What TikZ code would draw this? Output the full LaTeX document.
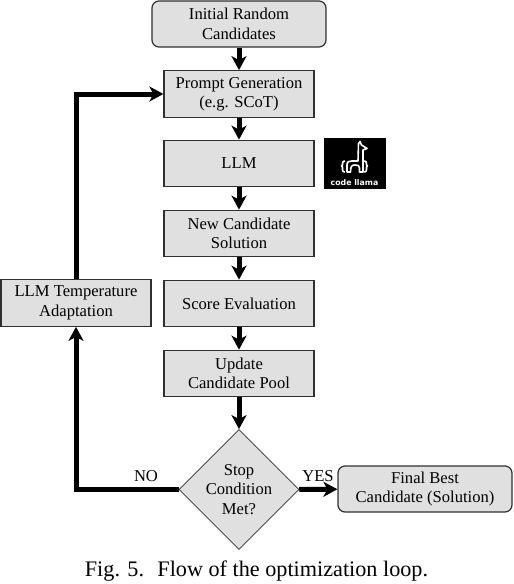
\documentclass[tikz,border=0pt]{standalone}
\usepackage{fontspec}
\setmainfont{Liberation Serif}
\newfontfamily\logofont{DejaVu Sans}
\usetikzlibrary{
  arrows.meta,
  shapes.geometric
}
\definecolor{inkC}{HTML}{303030}
\definecolor{boxC}{HTML}{E0E0E0}

\tikzset{
  boxbase/.style={
    draw=inkC,
    fill=boxC,
    line width=1.2pt,
    inner sep=0pt,
    align=center,
    font=\fontsize{16.6}{19.4}\selectfont
  },
  stepbox/.style={boxbase, minimum width=150pt, minimum height=46.5pt},
  endbox/.style={boxbase, rounded corners=7pt, minimum width=174pt, minimum height=46pt},
  stopbox/.style={boxbase, diamond, minimum width=120pt, minimum height=120pt, inner sep=-8pt, line width=0.8pt},
  flowline/.style={line width=5pt, -{Stealth[length=14pt, width=15pt, inset=4pt]}},
  looplabel/.style={font=\fontsize{16.6}{18}\selectfont, inner sep=0pt},
  llamaline/.style={draw=white, line width=1.6pt, line join=round, line cap=round}
}

\begin{document}
\begin{tikzpicture}[
  x=1pt,
  y=-1pt
]

\useasboundingbox (0,0) rectangle (514,584);

% Main column.
\node[endbox] (init) at (239,24) {Initial Random\\Candidates};
\node[stepbox] (prompt) at (239,94) {Prompt Generation\\(e.g. SCoT)};
\node[stepbox] (llm) at (239,163.5) {LLM};
\node[stepbox] (newcand) at (239,233.5) {New Candidate\\Solution};
\node[stepbox] (score) at (239,303.5) {Score Evaluation};
\node[stepbox] (update) at (239,373.5) {Update\\Candidate Pool};
\node[stopbox] (stop) at (239,489.5) {Stop\\Condition\\Met?};

% Side boxes.
\node[endbox] (final) at (425,489) {Final Best\\Candidate (Solution)};
\node[stepbox] (temp) at (76,303) {LLM Temperature\\Adaptation};

% Connectors.
\foreach \a/\b in {init/prompt,prompt/llm,llm/newcand,newcand/score,score/update,update/stop,stop/final}{
  \draw[flowline] (\a) -- (\b);
}
\draw[flowline] (stop.west) -| (temp.south);
\draw[flowline] (temp.north) |- (prompt.west);

% Branch labels.
\node[looplabel] (nolabel) at (146,476) {NO};
\node[looplabel] (yeslabel) at (318,476) {YES};

% Logo beside the LLM box.
\node[fill=black, minimum width=62pt, minimum height=50.5pt, inner sep=0pt] (logo) at (355,163.5) {};
\node[text=white, font=\logofont\bfseries\fontsize{7.8}{9}\selectfont, inner sep=0pt] (logotext) at (354.5,182.5) {code llama};
\draw[llamaline] (347,172) -- (347,165) .. controls (347,161.5) and (349,161) .. (352,161)
  -- (358,161) -- (358.5,143.5) -- (360,141.5) -- (361.5,145) -- (367,148.5) -- (363,150) -- (363,164)
  -- (363,172) -- (359.5,172) -- (359.5,168)
  .. controls (359.5,165.5) and (358,165) .. (355,165) .. controls (352,165) and (350.5,166) .. (350.5,172) -- cycle;
\draw[llamaline] (344.5,161) .. controls (343,161) and (342.5,162) .. (342.5,164) -- (342.5,165) -- (341.5,166)
  -- (342.5,167) -- (342.5,169.5) .. controls (342.5,171) and (343,172) .. (344.5,172);
\draw[llamaline] (364.5,161) .. controls (366,161) and (366.5,162) .. (366.5,164) -- (366.5,165) -- (367.5,166)
  -- (366.5,167) -- (366.5,169.5) .. controls (366.5,171) and (366,172) .. (364.5,172);

% Caption.
\node[font=\fontsize{22.2}{24}\selectfont, inner sep=0pt] (caption) at (256.5,571.5) {Fig. 5.\hspace{0.6em}Flow of the optimization loop.};

\end{tikzpicture}
\end{document}
